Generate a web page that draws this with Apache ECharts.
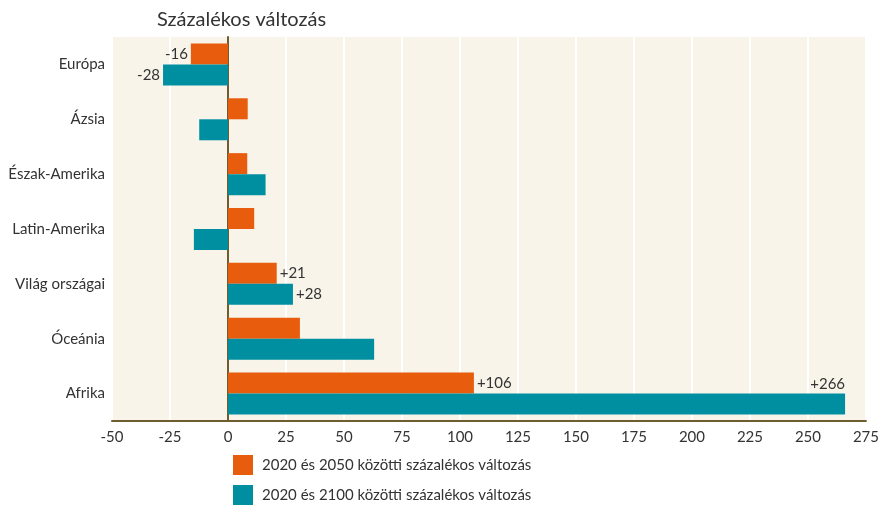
<!DOCTYPE html>
<html lang="hu">
<head>
  <meta charset="UTF-8">
  <script src="https://cdn.jsdelivr.net/npm/echarts@6/dist/echarts.min.js"></script>
  <style>
    html, body { margin: 0; padding: 0; background: #fff; }
    #chart { width: 882px; height: 506px; }
  </style>
</head>
<body>
  <div id="chart"></div>
  <script>
    // regions, top to bottom
    const regions = ['Európa', 'Ázsia', 'Észak-Amerika', 'Latin-Amerika', 'Világ országai', 'Óceánia', 'Afrika'];
    const change2050 = [-16, 8.5, 8.3, 11.3, 21, 31, 106];
    const change2100 = [-28, -12.4, 16.2, -14.7, 28, 63, 266];
    // which bars carry a value label
    const labeled2050 = [0, 4, 6];
    const labeled2100 = [0, 4, 6];
    const seriesNames = ['2020 és 2050 közötti százalékos változás', '2020 és 2100 közötti százalékos változás'];
    const xTicks = { min: -50, max: 275, interval: 25 };

    const font = 'Lato, "Noto Sans", sans-serif';
    const fmt = v => (v > 0 ? '+' : '') + v;

    function buildData(values, labeled, bigLabelTop) {
      return values.map((v, i) => {
        const item = { value: v };
        if (labeled.includes(i)) {
          let label = { show: true, position: v < 0 ? 'left' : 'right', distance: 3 };
          if (bigLabelTop && v > 200) {
            // the big Africa bar gets its label above its end
            label = { show: true, position: ['100%', -2], align: 'right', verticalAlign: 'bottom' };
          }
          item.label = label;
        }
        return item;
      });
    }

    const chart = echarts.init(document.getElementById('chart'));
    chart.setOption({
      animation: false,
      textStyle: { fontFamily: font },
      title: {
        text: 'Százalékos változás',
        left: 152,
        top: 5,
        textStyle: { fontFamily: font, fontSize: 20, fontWeight: 'normal', color: '#333' }
      },
      legend: {
        orient: 'vertical',
        left: 233,
        top: 455,
        padding: 0,
        itemWidth: 20,
        itemHeight: 20,
        itemGap: 10,
        icon: 'rect',
        textStyle: { fontFamily: font, fontSize: 15, color: '#333', padding: [0, 0, 0, 4] },
        data: seriesNames
      },
      grid: {
        left: 112,
        right: 16,
        top: 37,
        bottom: 85,
        show: true,
        backgroundColor: '#f8f4ea',
        borderWidth: 0
      },
      xAxis: {
        type: 'value',
        min: xTicks.min,
        max: xTicks.max,
        interval: xTicks.interval,
        axisLine: { show: true, onZero: false, lineStyle: { color: '#6e5d2e', width: 2 } },
        axisTick: { show: false },
        axisLabel: { fontFamily: font, fontSize: 15, color: '#333', margin: 9 },
        splitLine: { show: true, lineStyle: { color: '#ffffff', width: 2 } }
      },
      yAxis: {
        type: 'category',
        data: regions,
        inverse: true,
        axisLine: { show: true, onZero: true, lineStyle: { color: '#6e5d2e', width: 2 } },
        axisTick: { show: false },
        axisLabel: { fontFamily: font, fontSize: 15, color: '#333', margin: 7 },
        splitLine: { show: false }
      },
      series: [
        {
          name: seriesNames[0],
          type: 'bar',
          data: buildData(change2050, labeled2050, false),
          itemStyle: { color: '#e85c0d' },
          barWidth: 21,
          barGap: '0%',
          label: { fontFamily: font, fontSize: 15, color: '#333', formatter: p => fmt(p.value) }
        },
        {
          name: seriesNames[1],
          type: 'bar',
          data: buildData(change2100, labeled2100, true),
          itemStyle: { color: '#008fa1' },
          barWidth: 21,
          barGap: '0%',
          label: { fontFamily: font, fontSize: 15, color: '#333', formatter: p => fmt(p.value) }
        }
      ]
    });
  </script>
</body>
</html>
